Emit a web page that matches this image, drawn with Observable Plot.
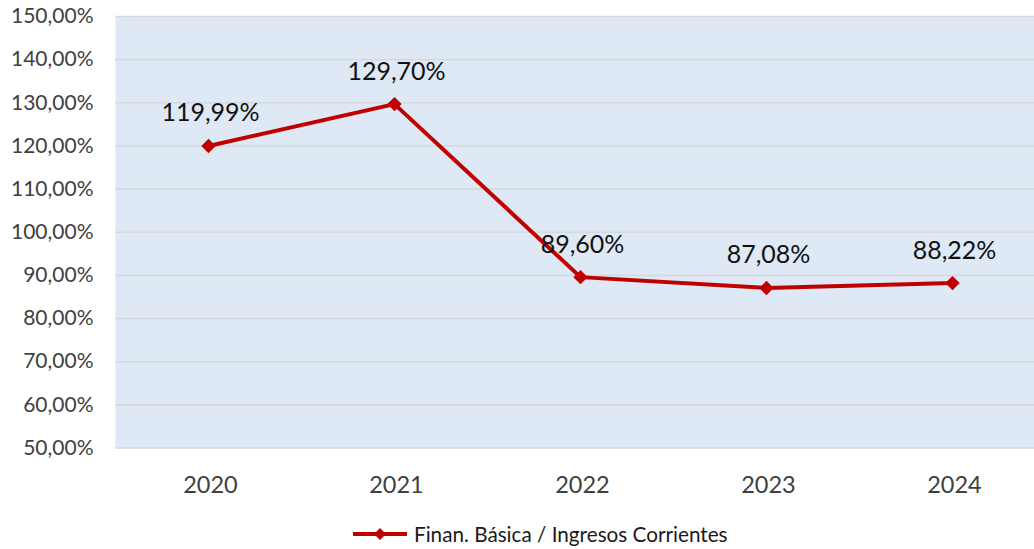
<!DOCTYPE html>
<html>
<head>
<meta charset="utf-8">
<script src="https://cdn.jsdelivr.net/npm/d3@7"></script>
<script src="https://cdn.jsdelivr.net/npm/@observablehq/plot@0.6"></script>
<style>
  html, body { margin: 0; padding: 0; background: #fff; }
  #wrap { position: relative; width: 1034px; height: 549px; font-family: Lato, "Noto Sans", sans-serif; }
  #legend { position: absolute; left: 352px; top: 520px; height: 28px; display: flex; align-items: center; font-size: 20.7px; color: #1a1a1a; }
  #legend svg { margin-right: 6px; }
</style>
</head>
<body>
<div id="wrap">
  <div id="chart"></div>
  <div id="legend"></div>
</div>
<script>
const years = ["2020", "2021", "2022", "2023", "2024"];
const values = [119.99, 129.70, 89.60, 87.08, 88.22];
const labels = ["119,99%", "129,70%", "89,60%", "87,08%", "88,22%"];
const yTicks = [50, 60, 70, 80, 90, 100, 110, 120, 130, 140, 150];
const seriesName = "Finan. Básica / Ingresos Corrientes";

const data = years.map((y, i) => ({year: y, value: values[i], label: labels[i]}));
const fmt = v => v.toFixed(2).replace(".", ",") + "%";
const red = "#C00000";

const chart = Plot.plot({
  width: 1034,
  height: 515,
  marginLeft: 115,
  marginRight: 0,
  marginTop: 16,
  marginBottom: 67.5,
  style: {fontFamily: "Lato, 'Noto Sans', sans-serif", background: "#fff"},
  x: {type: "point", domain: years, range: [206.7, 954], padding: 0, label: null},
  y: {domain: [50, 150], label: null},
  marks: [
    Plot.frame({fill: "#DEE9F5", stroke: null}),
    Plot.ruleY(yTicks, {stroke: "#d6d9de", strokeWidth: 1.6}),
    Plot.axisY({ticks: yTicks, tickFormat: fmt, tickSize: 0, tickPadding: 22, fontSize: 21, fill: "#404040", label: null}),
    Plot.axisX({tickSize: 0, tickPadding: 28, fontSize: 23.5, fill: "#404040", label: null, dx: 2}),
    Plot.line(data, {x: "year", y: "value", stroke: red, strokeWidth: 4}),
    Plot.dot(data, {x: "year", y: "value", symbol: "diamond2", r: 5.5, fill: red, stroke: red}),
    Plot.text(data, {x: "year", y: "value", text: "label", fontSize: 25, fill: "#111", dx: 2, dy: -32.5})
  ]
});
document.getElementById("chart").appendChild(chart);

const legend = document.getElementById("legend");
legend.innerHTML = `<svg width="56" height="14"><line x1="1" y1="7" x2="55" y2="7" stroke="${red}" stroke-width="4"/><path d="M28,1 L34,7 L28,13 L22,7 Z" fill="${red}"/></svg><span>${seriesName}</span>`;
</script>
</body>
</html>
